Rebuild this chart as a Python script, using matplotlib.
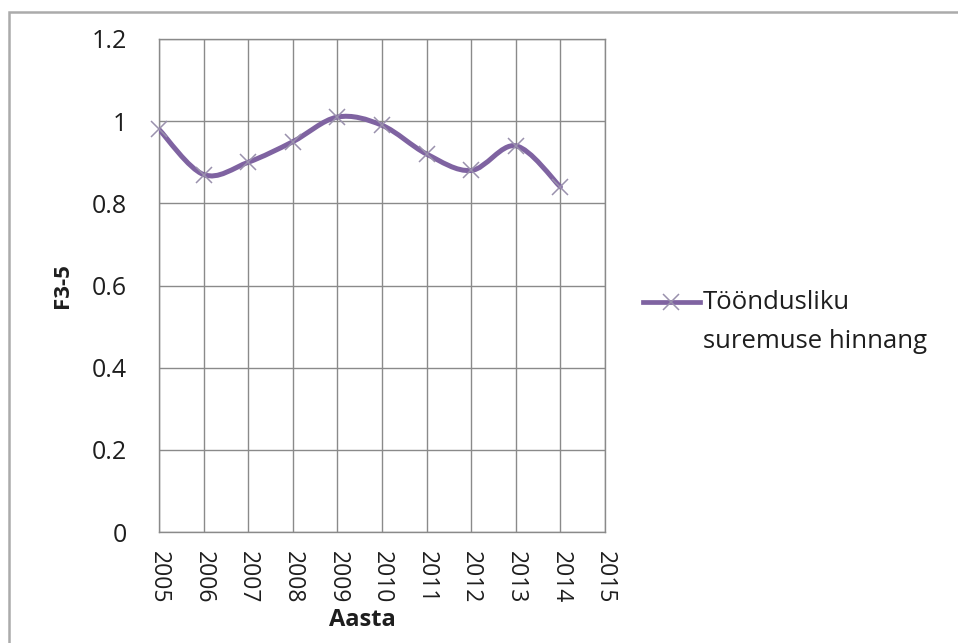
import numpy as np
import matplotlib.pyplot as plt
from matplotlib.path import Path
from matplotlib.patches import PathPatch, Rectangle
from matplotlib.lines import Line2D
from matplotlib.ticker import FuncFormatter

years = [2005, 2006, 2007, 2008, 2009, 2010, 2011, 2012, 2013, 2014]
f35 = [0.98, 0.87, 0.90, 0.95, 1.01, 0.99, 0.92, 0.88, 0.94, 0.84]
year_ticks = list(range(2005, 2016))
series_name = 'Tööndusliku\nsuremuse hinnang'

line_col = '#7f63a1'
mark_col = '#9a91ad'
grid_col = '#8a8a8a'
txt_col = '#1e1e1e'

W, H = 958, 643
plt.rcParams['font.family'] = ['Open Sans', 'DejaVu Sans']


def smooth_path(xs, ys):
    # bezier segments with catmull-rom style handles (like spreadsheet "smoothed line")
    pts = np.column_stack([xs, ys]).astype(float)
    n = len(pts)
    verts = [pts[0]]
    codes = [Path.MOVETO]
    for i in range(n - 1):
        p0 = pts[i - 1] if i > 0 else pts[i]
        p1 = pts[i]
        p2 = pts[i + 1]
        p3 = pts[i + 2] if i + 2 < n else pts[i + 1]
        c1 = p1 + (p2 - p0) / 6.0
        c2 = p2 - (p3 - p1) / 6.0
        verts += [c1, c2, p2]
        codes += [Path.CURVE4] * 3
    return Path(verts, codes)


fig = plt.figure(figsize=(W / 100, H / 100), dpi=100)
ax = fig.add_axes([159 / W, 1 - 532 / H, 446 / W, 493 / H])

# outer chart frame (only top/left edge inside the image)
fig.patches.append(Rectangle((9 / W, -0.1), 1.2, 1 - 12 / H + 0.1,
                             transform=fig.transFigure, fill=False,
                             ec='#ababab', lw=1.8))

ax.set_xlim(2005, 2015)
ax.set_ylim(0, 1.2)
ax.set_xticks(year_ticks)
ax.set_yticks(np.arange(0, 1.21, 0.2))
ax.yaxis.set_major_formatter(FuncFormatter(lambda v, p: '%g' % round(v, 1)))
ax.grid(True, color=grid_col, lw=1)
ax.set_axisbelow(True)
for s in ax.spines.values():
    s.set_color(grid_col)
    s.set_linewidth(1)

ax.tick_params(axis='y', length=0, pad=23, labelsize=18, colors=txt_col)
ax.tick_params(axis='x', length=0, pad=14, labelsize=16.5, colors=txt_col,
               labelrotation=-90)

ax.add_patch(PathPatch(smooth_path(years, f35), fc='none', ec=line_col,
                       lw=3.6, capstyle='round', joinstyle='round', zorder=3))
ax.plot(years, f35, ls='none', marker='x', ms=11, mec=mark_col, mew=1.1,
        zorder=4, clip_on=False)

ax.set_xlabel('Aasta', fontsize=17, fontweight='bold', color=txt_col)
ax.xaxis.set_label_coords((362 - 159) / 446, -(620 - 532) / 493)
ax.xaxis.label.set_va('center')
ax.set_ylabel('F3-5', fontsize=16, fontweight='bold', color=txt_col)
ax.yaxis.set_label_coords(-(159 - 62) / 446, 0.5)
ax.yaxis.label.set_va('center')

# legend: handle aligned with the first line of the label
fig.lines.append(Line2D([643 / W, 700 / W], [1 - 302 / H] * 2,
                        transform=fig.transFigure, color=line_col, lw=3.4))
fig.lines.append(Line2D([671 / W], [1 - 302 / H], transform=fig.transFigure,
                        ls='none', marker='x', ms=11, mec=mark_col, mew=1.1))
fig.text(703 / W, 1 - 290 / H, series_name, fontsize=18.5, color=txt_col,
         ha='left', va='top', linespacing=1.72)

fig.savefig('out.png', dpi=100, facecolor='white')
